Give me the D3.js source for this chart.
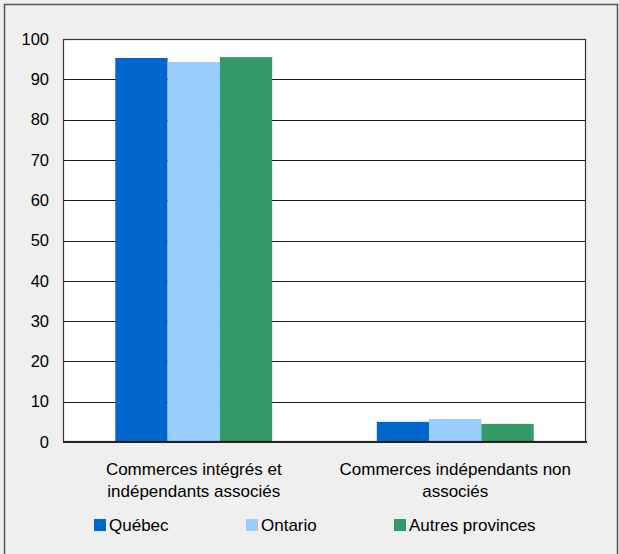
<!DOCTYPE html>
<html>
<head>
<meta charset="utf-8">
<title>Commerces</title>
<script src="https://d3js.org/d3.v7.min.js"></script>
<style>
  body { margin: 0; background: #efefef; }
  svg { display: block; font-family: "Liberation Sans", Arial, sans-serif; }
</style>
</head>
<body>
<div id="chart"></div>
<script>
  // data
  let categories = [["Commerces intégrés et", "indépendants associés"], ["Commerces indépendants non", "associés"]];
  let series = ["Québec", "Ontario", "Autres provinces"];
  let quebec = [95.3, 5.0];
  let ontario = [94.3, 5.7];
  let autres = [95.5, 4.5];
  let colors = ["#0066cc", "#99ccff", "#339966"];
  let yTicks = [0, 10, 20, 30, 40, 50, 60, 70, 80, 90, 100];

  let values = [quebec, ontario, autres];
  let rows = categories.map((c, i) => ({ cat: i, vals: values.map(v => v[i]) }));

  let W = 619, H = 554;
  let pLeft = 63, pRight = 586, pTop = 39, pBottom = 442;

  let svg = d3.select("#chart").append("svg")
      .attr("width", W)
      .attr("height", H);

  // outer frame
  svg.append("rect")
      .attr("x", 4.5).attr("y", 4.5)
      .attr("width", 613).attr("height", 570)
      .attr("fill", "#efefef")
      .attr("stroke", "#555").attr("stroke-width", 1.5);

  let x0 = d3.scaleBand()
      .domain(rows.map(d => d.cat))
      .range([pLeft, pRight])
      .paddingInner(0.4)
      .paddingOuter(0.2);

  let x1 = d3.scaleBand()
      .domain(d3.range(series.length))
      .range([0, x0.bandwidth()]);

  let y = d3.scaleLinear()
      .domain([0, 100])
      .range([pBottom, pTop]);

  // plot background
  svg.append("rect")
      .attr("x", pLeft).attr("y", pTop)
      .attr("width", pRight - pLeft).attr("height", pBottom - pTop)
      .attr("fill", "white");

  // gridlines
  svg.append("g").selectAll("line")
      .data(yTicks.filter(t => t > 0 && t < 100))
      .enter().append("line")
      .attr("x1", pLeft).attr("x2", pRight)
      .attr("y1", d => Math.round(y(d)) + 0.5)
      .attr("y2", d => Math.round(y(d)) + 0.5)
      .attr("stroke", "#1a1a1a")
      .attr("stroke-width", 1);

  // bars
  svg.append("g").selectAll("g")
      .data(rows)
      .enter().append("g")
      .attr("transform", d => "translate(" + x0(d.cat) + ",0)")
      .selectAll("rect")
      .data(d => d.vals.map((v, i) => ({ i: i, v: v })))
      .enter().append("rect")
      .attr("x", d => x1(d.i))
      .attr("width", x1.bandwidth())
      .attr("y", d => y(d.v))
      .attr("height", d => y(0) - y(d.v))
      .attr("fill", d => colors[d.i]);

  // plot frame
  svg.append("rect")
      .attr("x", pLeft + 0.5).attr("y", pTop + 0.5)
      .attr("width", pRight - pLeft - 1).attr("height", pBottom - pTop - 1)
      .attr("fill", "none")
      .attr("stroke", "#333").attr("stroke-width", 1.2);

  // y axis labels
  let yAxis = d3.axisLeft(y).tickValues(yTicks).tickSize(0).tickPadding(14);
  let ya = svg.append("g")
      .attr("transform", "translate(" + pLeft + ",0)")
      .call(yAxis);
  ya.select(".domain").remove();
  ya.selectAll("text")
      .attr("font-size", 16.5)
      .attr("font-family", "Liberation Sans, Arial, sans-serif")
      .attr("fill", "#000");

  // bottom axis line
  svg.append("line")
      .attr("x1", pLeft).attr("x2", pRight + 1)
      .attr("y1", pBottom).attr("y2", pBottom)
      .attr("stroke", "#222").attr("stroke-width", 2);

  // category labels
  let cl = svg.append("g").selectAll("text")
      .data(rows)
      .enter().append("text")
      .attr("x", d => x0(d.cat) + x0.bandwidth() / 2)
      .attr("y", 475)
      .attr("text-anchor", "middle")
      .attr("font-size", 17)
      .attr("fill", "#000");
  cl.selectAll("tspan")
      .data(d => categories[d.cat])
      .enter().append("tspan")
      .attr("x", function() { return d3.select(this.parentNode).attr("x"); })
      .attr("dy", (d, i) => i === 0 ? 0 : 22)
      .text(d => d);

  // legend
  let legendX = [94, 246, 394];
  let lg = svg.append("g").selectAll("g")
      .data(series)
      .enter().append("g")
      .attr("transform", (d, i) => "translate(" + legendX[i] + ",519)");
  lg.append("rect")
      .attr("width", 12).attr("height", 12)
      .attr("fill", (d, i) => colors[i]);
  lg.append("text")
      .attr("x", 15).attr("y", 12)
      .attr("font-size", 17)
      .attr("fill", "#000")
      .text(d => d);
</script>
</body>
</html>
